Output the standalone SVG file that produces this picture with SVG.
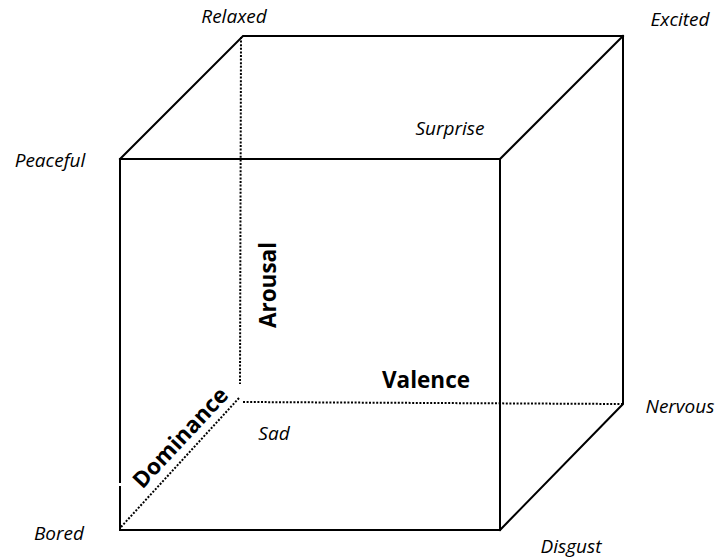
<svg xmlns="http://www.w3.org/2000/svg" width="719" height="560" viewBox="0 0 719 560">
<style>
.solid{stroke:#000;stroke-width:2;fill:none;stroke-linecap:square}
.dot{stroke:#000;stroke-width:2;fill:none;stroke-dasharray:2 1.6}
.lbl{font-family:"Open Sans","Liberation Sans",sans-serif;font-style:italic;font-size:19px;fill:#000}
.ax{font-family:"Open Sans","Liberation Sans",sans-serif;font-weight:bold;font-size:22.5px;fill:#000}
</style>
<rect width="719" height="560" fill="#fff"/>
<g id="connectors">
<line class="dot" x1="241" y1="37" x2="240" y2="384"/>
<line class="dot" x1="239" y1="398" x2="121" y2="527"/>
<line class="dot" x1="243" y1="402" x2="622" y2="404"/>
<polygon class="solid" points="120,159 500,159 500,530 120,530"/>
<polyline class="solid" points="120,159 243,36 623,36 623,404 500,530"/>
<line class="solid" x1="500" y1="159" x2="623" y2="36"/>
<rect x="116" y="483" width="6" height="3" fill="#fff"/>
</g>
<g id="relaxed"><text class="lbl" x="234" y="23" text-anchor="middle">Relaxed</text></g>
<g id="excited"><text class="lbl" x="680" y="26" text-anchor="middle">Excited</text></g>
<g id="peaceful"><text class="lbl" x="50" y="167" text-anchor="middle">Peaceful</text></g>
<g id="surprise"><text class="lbl" x="450" y="135" text-anchor="middle">Surprise</text></g>
<g id="nervous"><text class="lbl" x="680" y="413" text-anchor="middle">Nervous</text></g>
<g id="sad"><text class="lbl" x="274" y="440" text-anchor="middle">Sad</text></g>
<g id="bored"><text class="lbl" x="59" y="540" text-anchor="middle">Bored</text></g>
<g id="disgust"><text class="lbl" x="571" y="553" text-anchor="middle">Disgust</text></g>
<g id="arousal"><text class="ax" transform="translate(276,285) rotate(-90)" text-anchor="middle">Arousal</text></g>
<g id="valence"><text class="ax" x="426" y="388" text-anchor="middle">Valence</text></g>
<g id="dominance"><text class="ax" transform="translate(186,443) rotate(-47)" text-anchor="middle">Dominance</text></g>
</svg>
